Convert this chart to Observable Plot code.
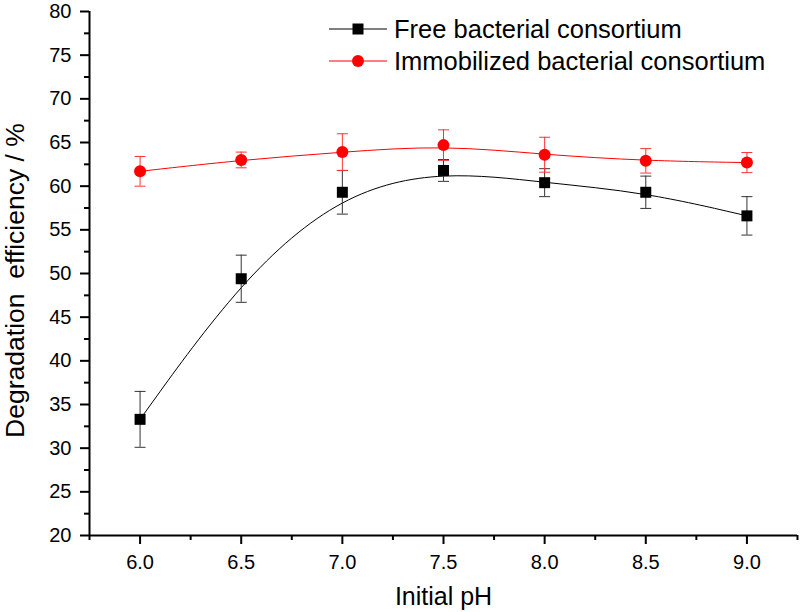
<!DOCTYPE html>
<html>
<head>
<meta charset="utf-8">
<script src="https://cdn.jsdelivr.net/npm/d3@7"></script>
<script src="https://cdn.jsdelivr.net/npm/@observablehq/plot@0.6"></script>
<style>
  html, body { margin: 0; padding: 0; background: #fff; }
  #wrap { position: relative; width: 800px; height: 612px; font-family: "Liberation Sans", Arial, sans-serif; }
  #legend { position: absolute; left: 329px; top: 13px; }
  .row { display: flex; align-items: center; height: 32px; }
  .row span { font-size: 25.5px; margin-left: 7px; color: #000; white-space: nowrap; }
</style>
</head>
<body>
<div id="wrap"><div id="legend"></div></div>
<script>
// ---- data ----
const pH = [6.0, 6.5, 7.0, 7.5, 8.0, 8.5, 9.0];
const freeMean = [33.3, 49.4, 59.3, 61.8, 60.4, 59.3, 56.6];
const freeErr  = [3.2, 2.7, 2.5, 1.25, 1.6, 1.85, 2.2];
const immoMean = [61.7, 63.0, 63.9, 64.7, 63.6, 62.9, 62.7];
const immoErr  = [1.7, 0.9, 2.1, 1.75, 2.0, 1.4, 1.15];
const seriesNames = ["Free bacterial consortium", "Immobilized bacterial consortium"];
const seriesColors = ["#000000", "#ff0000"];
const errColors = ["#333333", "#ff3333"];
const yTicks = [20, 25, 30, 35, 40, 45, 50, 55, 60, 65, 70, 75, 80];
const yMinor = [22.5, 27.5, 32.5, 37.5, 42.5, 47.5, 52.5, 57.5, 62.5, 67.5, 72.5, 77.5];
const xTicks = [6.0, 6.5, 7.0, 7.5, 8.0, 8.5, 9.0];
const xMinor = [5.75, 6.25, 6.75, 7.25, 7.75, 8.25, 8.75, 9.25];
const xLabel = "Initial pH";
const yLabel = "Degradation\u00a0 efficiency / %";

const free = pH.map((x, i) => ({pH: x, mean: freeMean[i], err: freeErr[i]}));
const immo = pH.map((x, i) => ({pH: x, mean: immoMean[i], err: immoErr[i]}));

const capSymbol = {draw(ctx) { ctx.moveTo(-5.5, 0); ctx.lineTo(5.5, 0); }};

function seriesMarks(rows, k) {
  const c = seriesColors[k], ec = errColors[k];
  return [
    Plot.line(rows, {x: "pH", y: "mean", stroke: c, strokeWidth: 1, curve: "basis"}),
    Plot.ruleX(rows, {x: "pH", y1: d => d.mean - d.err, y2: d => d.mean + d.err, stroke: ec, strokeWidth: 1}),
    Plot.dot(rows, {x: "pH", y: d => d.mean + d.err, symbol: capSymbol, stroke: ec, fill: "none", strokeWidth: 1}),
    Plot.dot(rows, {x: "pH", y: d => d.mean - d.err, symbol: capSymbol, stroke: ec, fill: "none", strokeWidth: 1}),
    k === 0
      ? Plot.dot(rows, {x: "pH", y: "mean", symbol: "square", r: 6.2, fill: c, stroke: "none"})
      : Plot.dot(rows, {x: "pH", y: "mean", symbol: "circle", r: 6, fill: c, stroke: "none"})
  ];
}

const chart = Plot.plot({
  width: 800,
  height: 612,
  marginLeft: 89,
  marginRight: 3,
  marginTop: 11,
  marginBottom: 77,
  style: {fontFamily: '"Liberation Sans", Arial, sans-serif', fontSize: "20px", color: "#000", background: "#fff", overflow: "visible"},
  x: {domain: [5.75, 9.25]},
  y: {domain: [20, 80]},
  marks: [
    Plot.axisY({ticks: yTicks, tickSize: 9, tickPadding: 9, fontSize: 20, strokeWidth: 2, label: null}),
    Plot.axisY({ticks: yMinor, tickSize: 5, strokeWidth: 2, tickFormat: () => "", label: null}),
    Plot.axisX({ticks: xTicks, tickSize: 9, tickPadding: 10, fontSize: 20, strokeWidth: 2, tickFormat: d3.format(".1f"), label: null}),
    Plot.axisX({ticks: xMinor, tickSize: 5, strokeWidth: 2, tickFormat: () => "", label: null}),
    Plot.ruleX([5.75], {stroke: "#000", strokeWidth: 2}),
    Plot.ruleY([20], {stroke: "#000", strokeWidth: 2}),
    Plot.text([xLabel], {text: d => d, frameAnchor: "bottom", dy: 61, fontSize: 25, lineAnchor: "middle", textAnchor: "middle"}),
    Plot.text([yLabel], {text: d => d, frameAnchor: "left", rotate: -90, dx: -74, dy: 7, fontSize: 26.5, lineAnchor: "middle", textAnchor: "middle"}),
    ...seriesMarks(free, 0),
    ...seriesMarks(immo, 1)
  ]
});

const wrap = document.getElementById("wrap");
wrap.insertBefore(chart, wrap.firstChild);

// legend (HTML overlay)
const legend = d3.select("#legend");
seriesNames.forEach((name, k) => {
  const row = legend.append("div").attr("class", "row");
  const svg = row.append("svg").attr("width", 58).attr("height", 32);
  svg.append("line").attr("x1", 0).attr("x2", 58).attr("y1", 16).attr("y2", 16)
    .attr("stroke", seriesColors[k]).attr("stroke-width", 1);
  if (k === 0) {
    svg.append("rect").attr("x", 29 - 5.5).attr("y", 16 - 5.5).attr("width", 11).attr("height", 11).attr("fill", seriesColors[k]);
  } else {
    svg.append("circle").attr("cx", 29).attr("cy", 16).attr("r", 6).attr("fill", seriesColors[k]);
  }
  row.append("span").text(name);
});
</script>
</body>
</html>
